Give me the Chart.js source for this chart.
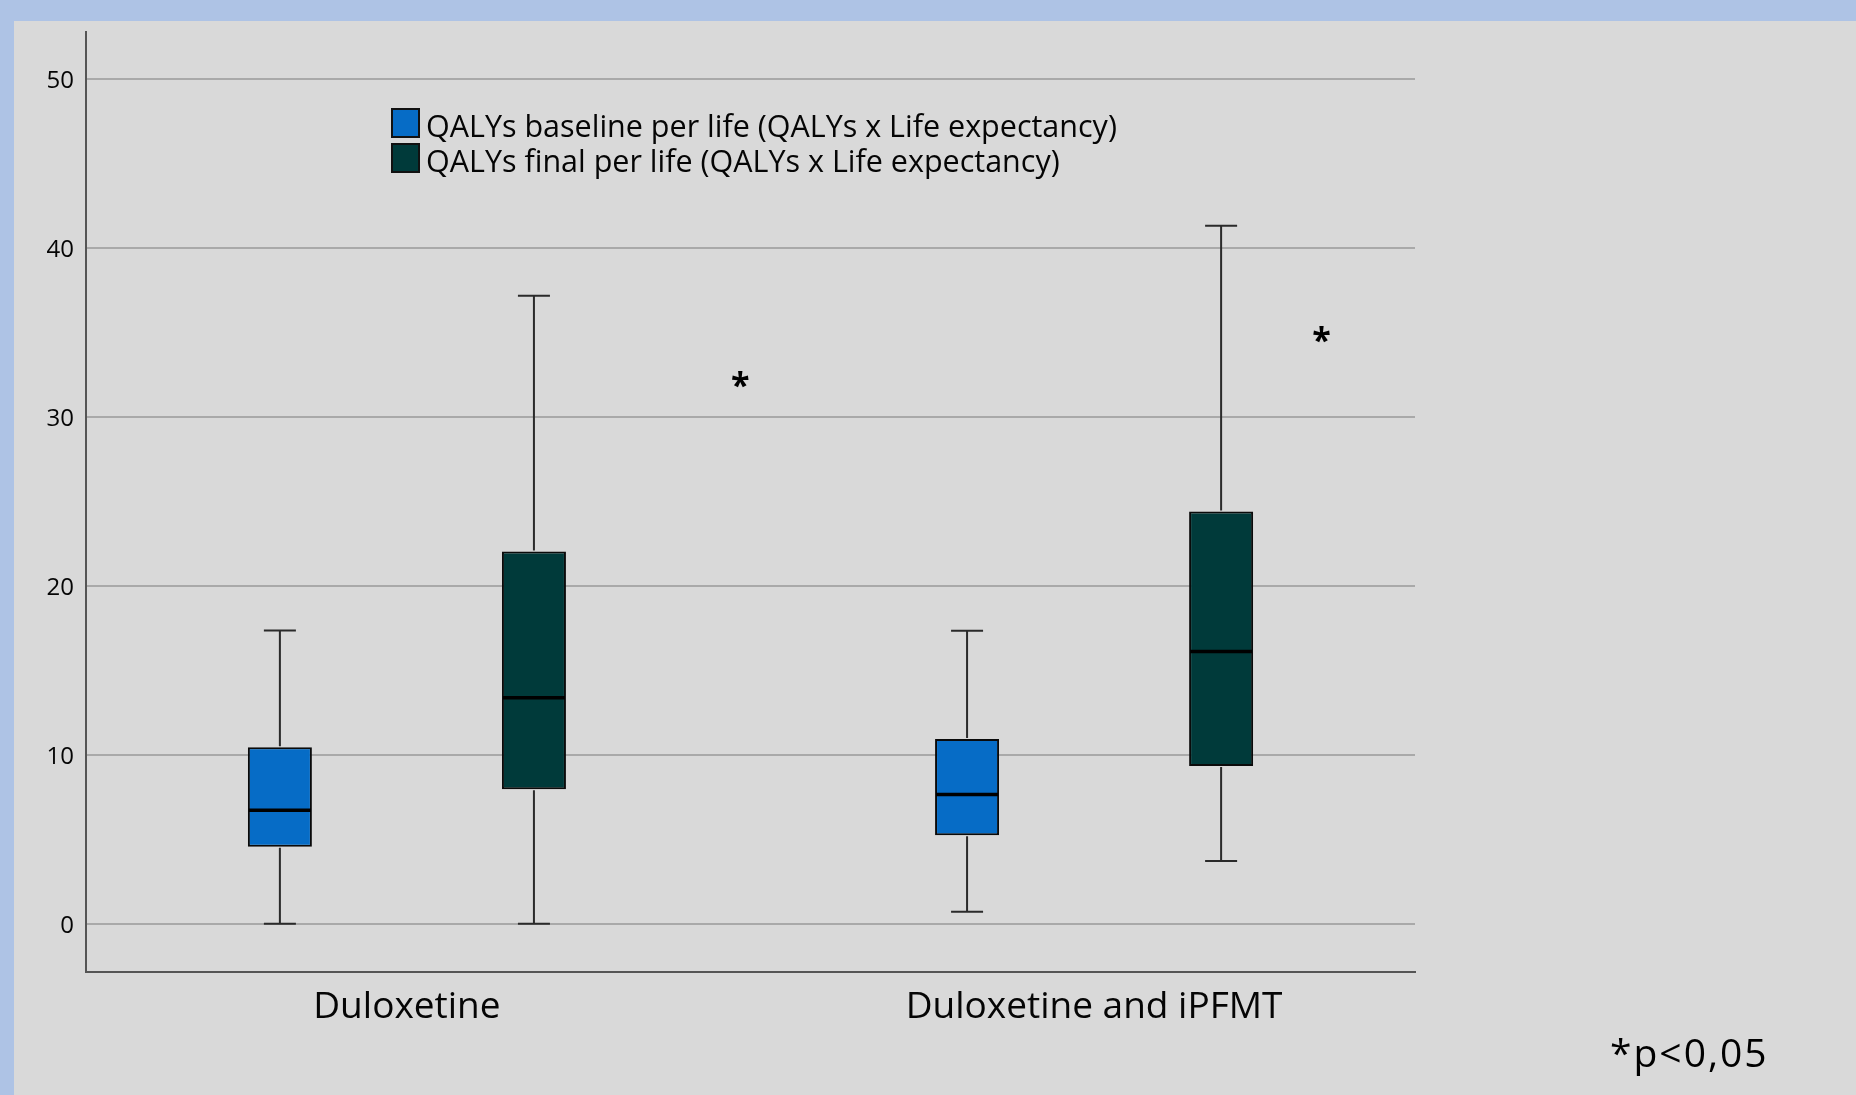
<!DOCTYPE html>
<html>
<head>
<meta charset="utf-8">
<title>QALYs per life</title>
<script src="https://cdn.jsdelivr.net/npm/chart.js@4.4.1/dist/chart.umd.min.js"></script>
<style>
  html, body { margin: 0; padding: 0; background: #aec3e5; overflow: hidden; }
  #qalyChart { display: block; }
</style>
</head>
<body>
<canvas id="qalyChart" width="1856" height="1095"></canvas>
<script>
// data
const categories = ['Duloxetine', 'Duloxetine and iPFMT'];
const seriesLabels = [
    'QALYs baseline per life (QALYs x Life expectancy)',
    'QALYs final per life (QALYs x Life expectancy)'
];
const yTicks = [0, 10, 20, 30, 40, 50];

const baselineMin = [0, 0.72];
const baselineQ1 = [4.57, 5.25];
const baselineMedian = [6.73, 7.66];
const baselineQ3 = [10.46, 10.95];
const baselineMax = [17.37, 17.35];

const finalMin = [0, 3.72];
const finalQ1 = [7.97, 9.34];
const finalMedian = [13.38, 16.12];
const finalQ3 = [22.04, 24.41];
const finalMax = [37.18, 41.33];

// significance stars (x in category units, y in QALYs)
const starX = [0.485, 1.331];
const starY = [32.4, 35.05];
const noteText = '*p<0,05';

const textColor = '#050505';
const fontFamily = '"Open Sans", "DejaVu Sans", sans-serif';

function boxData(q1, q3) {
    return categories.map((c, i) => ({ x: i, y: [q1[i], q3[i]] }));
}

// paints the slide background (blue frame + gray panel)
const backgroundPlugin = {
    id: 'slideBackground',
    beforeDraw(chart) {
        const c = chart.ctx;
        c.save();
        c.fillStyle = '#aec3e5';
        c.fillRect(0, 0, chart.width, chart.height);
        c.fillStyle = '#d9d9d9';
        c.fillRect(14, 21, chart.width - 14, chart.height - 21);
        c.restore();
    }
};

// whiskers, caps and medians on top of the floating bars
const whiskerPlugin = {
    id: 'boxWhiskers',
    afterDatasetsDraw(chart) {
        const c = chart.ctx;
        const y = chart.scales.y;
        c.save();
        chart.data.datasets.forEach((ds, di) => {
            const meta = chart.getDatasetMeta(di);
            meta.data.forEach((bar, i) => {
                const half = bar.width / 2;
                const cap = bar.width / 4;
                const top = y.getPixelForValue(ds.q3[i]);
                const bottom = y.getPixelForValue(ds.q1[i]);
                const hi = y.getPixelForValue(ds.max[i]);
                const lo = y.getPixelForValue(ds.min[i]);

                c.strokeStyle = '#2a2a2a';
                c.lineWidth = 2;
                c.beginPath();
                c.moveTo(bar.x, top - 1);
                c.lineTo(bar.x, hi);
                c.moveTo(bar.x - cap, hi);
                c.lineTo(bar.x + cap, hi);
                c.moveTo(bar.x, bottom + 1);
                c.lineTo(bar.x, lo);
                c.moveTo(bar.x - cap, lo);
                c.lineTo(bar.x + cap, lo);
                c.stroke();

                const med = y.getPixelForValue(ds.median[i]);
                c.strokeStyle = '#000';
                c.lineWidth = 3.5;
                c.beginPath();
                c.moveTo(bar.x - half + 1, med);
                c.lineTo(bar.x + half - 1, med);
                c.stroke();
            });
        });
        c.restore();
    }
};

// legend inside the plot, stars and the p-value note
const notesPlugin = {
    id: 'notes',
    afterDraw(chart) {
        const c = chart.ctx;
        const x = chart.scales.x;
        const y = chart.scales.y;
        c.save();

        c.font = '30.5px ' + fontFamily;
        c.textBaseline = 'middle';
        c.textAlign = 'left';
        chart.data.datasets.forEach((ds, i) => {
            const top = 109 + i * 35;
            c.fillStyle = ds.backgroundColor;
            c.fillRect(392, top, 27, 28);
            c.strokeStyle = '#111';
            c.lineWidth = 2;
            c.strokeRect(392, top, 27, 28);
            c.fillStyle = textColor;
            c.fillText(ds.label, 426, top + 19);
        });

        c.font = 'bold 34px ' + fontFamily;
        c.textAlign = 'center';
        c.textBaseline = 'alphabetic';
        c.fillStyle = '#000';
        starX.forEach((sx, i) => {
            c.fillText('*', x.getPixelForValue(sx), y.getPixelForValue(starY[i]) + 20);
        });

        c.font = '39px ' + fontFamily;
        c.letterSpacing = '2px';
        c.textAlign = 'left';
        c.fillText(noteText, 1610, 1067);
        c.restore();
    }
};

const ctx = document.getElementById('qalyChart').getContext('2d');

const qalyChart = new Chart(ctx, {
    type: 'bar',
    data: {
        datasets: [
            {
                label: seriesLabels[0],
                data: boxData(baselineQ1, baselineQ3),
                min: baselineMin, q1: baselineQ1, median: baselineMedian, q3: baselineQ3, max: baselineMax,
                backgroundColor: '#066cc6',
                borderColor: '#0a0a0a',
                borderWidth: 2,
                borderSkipped: false,
                categoryPercentage: 0.7394,
                barPercentage: 0.252
            },
            {
                label: seriesLabels[1],
                data: boxData(finalQ1, finalQ3),
                min: finalMin, q1: finalQ1, median: finalMedian, q3: finalQ3, max: finalMax,
                backgroundColor: '#003a3a',
                borderColor: '#0a0a0a',
                borderWidth: 2,
                borderSkipped: false,
                categoryPercentage: 0.7394,
                barPercentage: 0.252
            }
        ]
    },
    options: {
        responsive: false,
        animation: false,
        devicePixelRatio: 1,
        layout: { padding: { top: 32, right: 441, left: 0, bottom: 0 } },
        plugins: {
            legend: { display: false },
            tooltip: { enabled: false }
        },
        scales: {
            x: {
                type: 'linear',
                offset: false,
                min: -0.467,
                max: 1.467,
                afterBuildTicks: scale => { scale.ticks = categories.map((c, i) => ({ value: i })); },
                afterFit: scale => { scale.height = 123; },
                grid: { display: false, drawTicks: false, offset: false },
                border: { color: '#555', width: 2 },
                ticks: {
                    callback: v => categories[v],
                    autoSkip: false,
                    maxRotation: 0,
                    padding: 13,
                    color: textColor,
                    font: { family: fontFamily, size: 37 }
                }
            },
            y: {
                min: -2.85,
                max: 52.8,
                afterBuildTicks: scale => { scale.ticks = yTicks.map(v => ({ value: v })); },
                afterFit: scale => { scale.width = 86; },
                grid: { color: '#a9a9a9', lineWidth: 2, drawTicks: false },
                border: { color: '#555', width: 2 },
                ticks: {
                    padding: 12,
                    labelOffset: 2,
                    color: textColor,
                    font: { family: fontFamily, size: 24 }
                }
            }
        }
    },
    plugins: [backgroundPlugin, whiskerPlugin, notesPlugin]
});
</script>
</body>
</html>
